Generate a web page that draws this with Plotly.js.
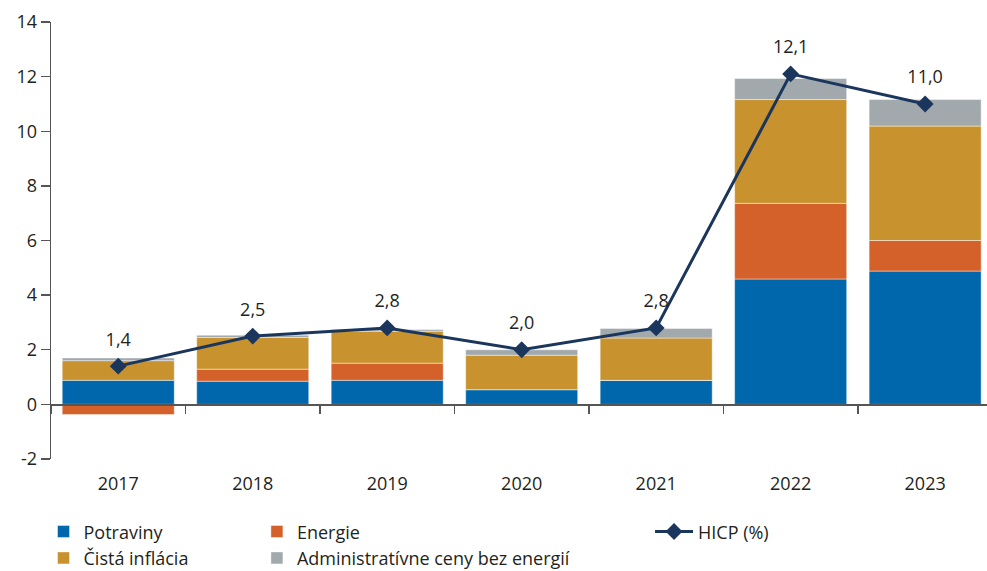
<!DOCTYPE html>
<html><head><meta charset="utf-8">
<script src="https://cdn.plot.ly/plotly-3.0.1.min.js"></script>
<style>html,body{margin:0;padding:0;background:#fff}#c{width:987px;height:571px}</style>
</head><body><div id="c"></div>
<script>
const years = ['2017','2018','2019','2020','2021','2022','2023'];
const potraviny = [0.88, 0.85, 0.88, 0.54, 0.88, 4.59, 4.88];
const energie = [-0.37, 0.44, 0.63, 0.0, 0.0, 2.77, 1.12];
const cistaInflacia = [0.72, 1.16, 1.17, 1.26, 1.55, 3.80, 4.19];
const adminCeny = [0.10, 0.08, 0.06, 0.20, 0.35, 0.77, 0.97];
const hicp = [1.4, 2.5, 2.8, 2.0, 2.8, 12.1, 11.0];
const yTickVals = [-2, 0, 2, 4, 6, 8, 10, 12, 14];
const yTickText = ['-2', '0', '2', '4', '6', '8', '10', '12', '14'];

const FONT = 'Open Sans, Noto Sans, sans-serif';
const FS = 18;
const TXT = '#231f20';
const barLine = {width: 0.8, color: 'rgba(255,255,255,0.55)'};
function bar(name, y, color, legend) {
  return {type: 'bar', name: name, x: years, y: y, marker: {color: color, line: barLine},
          legend: legend, hoverinfo: 'skip'};
}
const hicpLabels = hicp.map(v => v.toFixed(1).replace('.', ','));
const traces = [
  bar('Potraviny', potraviny, '#0067ac', 'legend'),
  bar('Energie', energie, '#d4602a', 'legend2'),
  bar('Čistá inflácia', cistaInflacia, '#c8922e', 'legend'),
  bar('Administratívne ceny bez energií', adminCeny, '#a2a9ad', 'legend2'),
  {type: 'scatter', mode: 'lines+markers', name: 'HICP (%)', x: years, y: hicp, xaxis: 'x2',
   line: {color: '#1b365d', width: 3}, marker: {symbol: 'diamond', size: 13, color: '#1b365d'},
   legend: 'legend3', hoverinfo: 'skip'},
  {type: 'scatter', mode: 'markers+text', name: 'labels', x: years, y: hicp, xaxis: 'x2',
   text: hicpLabels, textposition: 'top center', textfont: {family: FONT, size: FS, color: TXT},
   marker: {size: 24, opacity: 0}, showlegend: false, hoverinfo: 'skip', cliponaxis: false}
];
const xr = [-0.5, 6.46];
const legBase = {orientation: 'v', yref: 'container', yanchor: 'top', xanchor: 'left', y: 0.101,
  bgcolor: 'rgba(0,0,0,0)', font: {family: FONT, size: FS, color: TXT}, tracegroupgap: 0, itemwidth: 30};
const layout = {
  width: 987, height: 571,
  margin: {l: 51, r: 0, t: 22, b: 112},
  paper_bgcolor: '#fff', plot_bgcolor: '#fff',
  barmode: 'relative', bargap: 0.167,
  font: {family: FONT, size: FS, color: TXT},
  xaxis: {type: 'category', range: xr, showgrid: false, showline: false, ticks: '', zeroline: false,
          ticklabelstandoff: 12, tickfont: {family: FONT, size: FS, color: TXT}, fixedrange: true},
  xaxis2: {type: 'category', range: xr, overlaying: 'x', anchor: 'free', position: 0.125,
           showgrid: false, showline: true, linecolor: '#555', linewidth: 1.3,
           ticks: 'outside', tickson: 'boundaries', ticklen: 8, tickcolor: '#555', tickwidth: 1.3,
           showticklabels: false, zeroline: false},
  yaxis: {range: [-2, 14], tickvals: yTickVals, ticktext: yTickText, showgrid: false, zeroline: false,
          showline: true, linecolor: '#555', linewidth: 1.3, ticks: 'outside', ticklen: 9,
          tickcolor: '#555', tickwidth: 1.3, tickfont: {family: FONT, size: FS, color: TXT}},
  legend: Object.assign({}, legBase, {x: -0.008}),
  legend2: Object.assign({}, legBase, {x: 0.22}),
  legend3: Object.assign({}, legBase, {x: 0.64, itemwidth: 38}),
  showlegend: true
};
Plotly.newPlot('c', traces, layout, {staticPlot: true, displayModeBar: false});
</script></body></html>
